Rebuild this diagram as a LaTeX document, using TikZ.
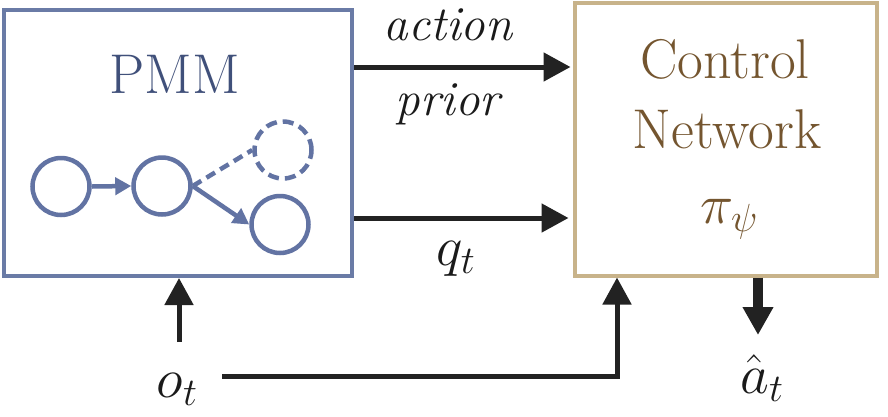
\documentclass[tikz,border=0pt]{standalone}
\usepackage{fix-cm}
\usetikzlibrary{arrows.meta,calc}
\definecolor{pmmline}{HTML}{6A7BA6}
\definecolor{pmmcirc}{HTML}{6273A3}
\definecolor{pmmtext}{HTML}{40507A}
\definecolor{ctrlline}{HTML}{C8B38A}
\definecolor{ctrltext}{HTML}{74552F}
\definecolor{arrowc}{HTML}{222222}
\definecolor{labelc}{HTML}{1A1A1A}
\tikzset{
  box/.style={draw, line width=4pt, inner sep=0pt, fill=white},
  arr/.style={draw=arrowc, line width=5pt, -{Triangle[length=27pt,width=28pt]}},
  thickarr/.style={draw=arrowc, line width=10pt, -{Triangle[length=28pt,width=29pt]}},
  gnode/.style={circle, draw=pmmcirc, line width=4.5pt, minimum size=57pt, inner sep=0pt},
  garr/.style={draw=pmmcirc, line width=4.5pt, -{Triangle[length=16pt,width=17pt]}},
  bigtext/.style={font=\fontsize{56}{60}\selectfont, anchor=base, inner sep=0pt},
  lbl/.style={font=\fontsize{49}{56}\selectfont\itshape, anchor=base, inner sep=0pt, text=labelc},
  mathlbl/.style={font=\fontsize{56}{60}\selectfont, anchor=base, inner sep=0pt, text=labelc}
}
\begin{document}
\begin{tikzpicture}[x=1pt,y=-1pt]
\useasboundingbox (0,0) rectangle (888,416);
% boxes
\node[box, draw=pmmline, minimum width=348pt, minimum height=266.5pt] (pmm) at (178,142.75) {};
\node[box, draw=ctrlline, minimum width=302pt, minimum height=273pt] (ctrl) at (725.5,139) {};
% box texts
\node[bigtext, text=pmmtext] (pmmlabel) at (175,93) {PMM};
\node[bigtext, text=ctrltext] (ctrl1) at (725,78) {Control};
\node[bigtext, text=ctrltext] (ctrl2) at (727,148) {Network};
\node[bigtext, text=ctrltext] (pi) at (729,223) {$\pi_\psi$};
% graph inside PMM
\node[gnode] (c1) at (61,186.5) {};
\node[gnode] (c2) at (162,186) {};
\node[gnode, dash pattern=on 11pt off 6pt] (c3) at (283,150) {};
\node[gnode] (c4) at (280,224.5) {};
\draw[garr] (c1.east) -- (c2.west);
\draw[garr] (c2.east) -- (c4.west);
\draw[draw=pmmcirc, line width=4.5pt, dash pattern=on 10pt off 6pt] (c2.east) -- (c3.west);
% connector coordinates
\coordinate (ya) at (0,67);
\coordinate (yq) at (0,218);
\coordinate (oup) at (179,342);
\coordinate (ostart) at (222,376);
\coordinate (cx) at (617,0);
\coordinate (dx) at (758,0);
\coordinate (adown) at (758,335);
% arrows
\draw[arr] (pmm.east |- ya) -- ([xshift=-2pt]ctrl.west |- ya);
\draw[arr] (pmm.east |- yq) -- ([xshift=-4pt]ctrl.west |- yq);
\draw[arr] (oup) -- (pmm.south -| oup);
\draw[arr] (ostart) -| (ctrl.south -| cx);
\draw[thickarr] (ctrl.south -| dx) -- (adown);
% labels
\node[lbl] (action) at (448,40) {action};
\node[lbl] (prior) at (448,115) {prior};
\node[mathlbl] (q) at (456,265) {$q_t$};
\node[mathlbl] (o) at (177,397) {$o_t$};
\node[mathlbl] (ahat) at (762,393) {$\hat{a}_t$};
\end{tikzpicture}
\end{document}
